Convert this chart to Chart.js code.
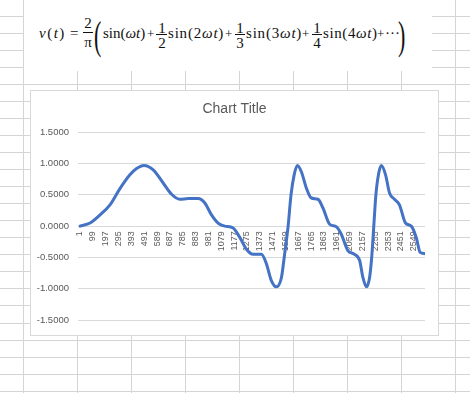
<!DOCTYPE html>
<html>
<head>
<meta charset="utf-8">
<script src="https://cdn.jsdelivr.net/npm/chart.js@4.4.1/dist/chart.umd.min.js"></script>
<style>
  html, body { margin: 0; padding: 0; background: #fff; }
  body { width: 470px; height: 393px; position: relative; overflow: hidden; }
  #sheet { position: absolute; left: 0; top: 0; }
  #formulaBox { position: absolute; left: 24px; top: 0; width: 408px; height: 71px; background: #fff; }
  #formula { position: absolute; left: 0; top: 0; font-family: "Liberation Serif", "DejaVu Serif", serif; color: #111; }
  #formula span { position: absolute; white-space: nowrap; font-size: 15px; line-height: 16px; }
  #formula i { font-style: italic; }
  #formula .op { font-size: 13px; }
  #formula .num, #formula .den { font-size: 15px; line-height: 15px; text-align: center; width: 12px; }
  #formula .bar { height: 1px; background: #111; }
  #formula .big { font-size: 40px; line-height: 40px; transform: scaleX(0.55); transform-origin: left center; }
  #chartBox { position: absolute; left: 30px; top: 90px; width: 407px; height: 244px; border: 1px solid #d9d9d9; background: #fff; }
  #chart { display: block; }
</style>
</head>
<body>
<canvas id="sheet" width="470" height="393"></canvas>
<div id="formulaBox"></div>
<div id="formula">
  <span style="left:39px;top:25px;letter-spacing:1.5px"><i>v</i>(<i>t</i>)</span>
  <span style="left:70px;top:25px">=</span>
  <span class="num" style="left:82px;top:16px">2</span>
  <span class="bar" style="left:83px;top:32px;width:10px"></span>
  <span class="den" style="left:82px;top:35px">π</span>
  <span class="big" style="left:94px;top:16px">(</span>
  <span style="left:103px;top:25px">sin(<i>ωt</i>)</span>
  <span class="op" style="left:147px;top:26px">+</span>
  <span class="num" style="left:156px;top:21px">1</span>
  <span class="bar" style="left:156px;top:34px;width:11px"></span>
  <span class="den" style="left:156px;top:36px">2</span>
  <span style="left:168px;top:25px;letter-spacing:0.8px">sin(2<i>ωt</i>)</span>
  <span class="op" style="left:225px;top:26px">+</span>
  <span class="num" style="left:234px;top:21px">1</span>
  <span class="bar" style="left:235px;top:34px;width:10px"></span>
  <span class="den" style="left:234px;top:36px">3</span>
  <span style="left:246px;top:25px;letter-spacing:0.8px">sin(3<i>ωt</i>)</span>
  <span class="op" style="left:302px;top:26px">+</span>
  <span class="num" style="left:311px;top:21px">1</span>
  <span class="bar" style="left:312px;top:34px;width:10px"></span>
  <span class="den" style="left:311px;top:36px">4</span>
  <span style="left:323px;top:25px;letter-spacing:0.6px">sin(4<i>ωt</i>)</span>
  <span class="op" style="left:377px;top:26px">+</span>
  <span style="left:385px;top:25px">···</span>
  <span class="big" style="left:398px;top:16px">)</span>
</div>
<div id="chartBox"><canvas id="chart" width="407" height="244"></canvas></div>
<script>
// sample number (row) and value
const sampleIndex = [1, 78, 154, 230, 306, 382, 433, 489, 560, 636, 700, 764, 827, 903, 954, 1005, 1055, 1106, 1170, 1221,
  1272, 1322, 1386, 1424, 1462, 1500, 1539, 1560, 1590, 1612, 1636, 1660, 1691, 1729, 1767, 1818, 1856, 1907, 1958, 1996,
  2046, 2097, 2136, 2161, 2188, 2212, 2228, 2244, 2260, 2282, 2302, 2334, 2364, 2402, 2440, 2486, 2530, 2568, 2598, 2635];
const voltage = [0, 0.05, 0.18, 0.34, 0.6, 0.82, 0.92, 0.97, 0.9, 0.69, 0.51, 0.43, 0.44, 0.44, 0.37, 0.18, 0.05, 0, -0.03, -0.18,
  -0.37, -0.45, -0.45, -0.6, -0.87, -0.97, -0.82, -0.5, 0, 0.5, 0.82, 0.97, 0.87, 0.61, 0.45, 0.43, 0.29, 0.03, -0.01, -0.13,
  -0.39, -0.45, -0.55, -0.82, -0.97, -0.82, -0.5, 0, 0.5, 0.85, 0.97, 0.82, 0.53, 0.43, 0.34, 0.05, 0, -0.18, -0.42, -0.44];
const tickLabels = [1, 99, 197, 295, 393, 491, 589, 687, 785, 883, 981, 1079, 1177, 1275, 1373, 1471, 1569, 1667, 1765,
  1863, 1961, 2059, 2157, 2255, 2353, 2451, 2549];

// spreadsheet grid behind the chart
const sheet = document.getElementById("sheet").getContext("2d");
sheet.strokeStyle = "#d4d4d4";
sheet.lineWidth = 1;
for (let k = 0; k < 9; k++) {
  const x = Math.round(23.3 + 54 * k) + 0.5;
  sheet.beginPath(); sheet.moveTo(x, 0); sheet.lineTo(x, 393); sheet.stroke();
}
for (let k = 0; k < 23; k++) {
  const y = Math.round(15.8 + 17.04 * k) + 0.5;
  sheet.beginPath(); sheet.moveTo(0, y); sheet.lineTo(470, y); sheet.stroke();
}

const points = sampleIndex.map((x, i) => ({ x: x, y: voltage[i] }));

const ctx = document.getElementById("chart").getContext("2d");
new Chart(ctx, {
  type: "line",
  data: {
    datasets: [
      {
        label: "v(t)",
        data: points,
        borderColor: "#4472C4",
        borderWidth: 3,
        borderCapStyle: "round",
        borderJoinStyle: "round",
        pointRadius: 0,
        cubicInterpolationMode: "monotone",
        fill: false
      }
    ]
  },
  options: {
    responsive: false,
    animation: false,
    events: [],
    layout: { padding: { left: 0, right: 0, top: 0, bottom: 12.7 } },
    plugins: {
      legend: { display: false },
      tooltip: { enabled: false },
      title: {
        display: true,
        text: "Chart Title",
        color: "#595959",
        font: { family: "Liberation Sans", size: 14, weight: "normal", lineHeight: 1.2 },
        padding: { top: 9.6, bottom: 14.9 }
      }
    },
    scales: {
      x: {
        type: "linear",
        position: { y: 0 },
        min: -12,
        max: 2635,
        afterBuildTicks: scale => { scale.ticks = tickLabels.map(v => ({ value: v })); },
        grid: { display: false, drawTicks: false },
        border: { display: false },
        ticks: {
          autoSkip: false,
          minRotation: 90,
          maxRotation: 90,
          padding: 5,
          color: "#595959",
          font: { family: "Liberation Sans", size: 9 },
          callback: v => String(v)
        }
      },
      y: {
        min: -1.5,
        max: 1.5,
        afterFit: scale => { scale.width = 47.3; },
        grid: { color: "#d9d9d9", drawTicks: false },
        border: { display: false },
        ticks: {
          stepSize: 0.5,
          padding: 9.3,
          color: "#595959",
          font: { family: "Liberation Sans", size: 9.5 },
          callback: v => v.toFixed(4)
        }
      },
      // empty right margin so the title stays centred on the whole box
      margin: {
        position: "right",
        afterFit: scale => { scale.width = 13; },
        grid: { display: false, drawTicks: false },
        border: { display: false },
        ticks: { display: false }
      }
    }
  }
});
</script>
</body>
</html>
